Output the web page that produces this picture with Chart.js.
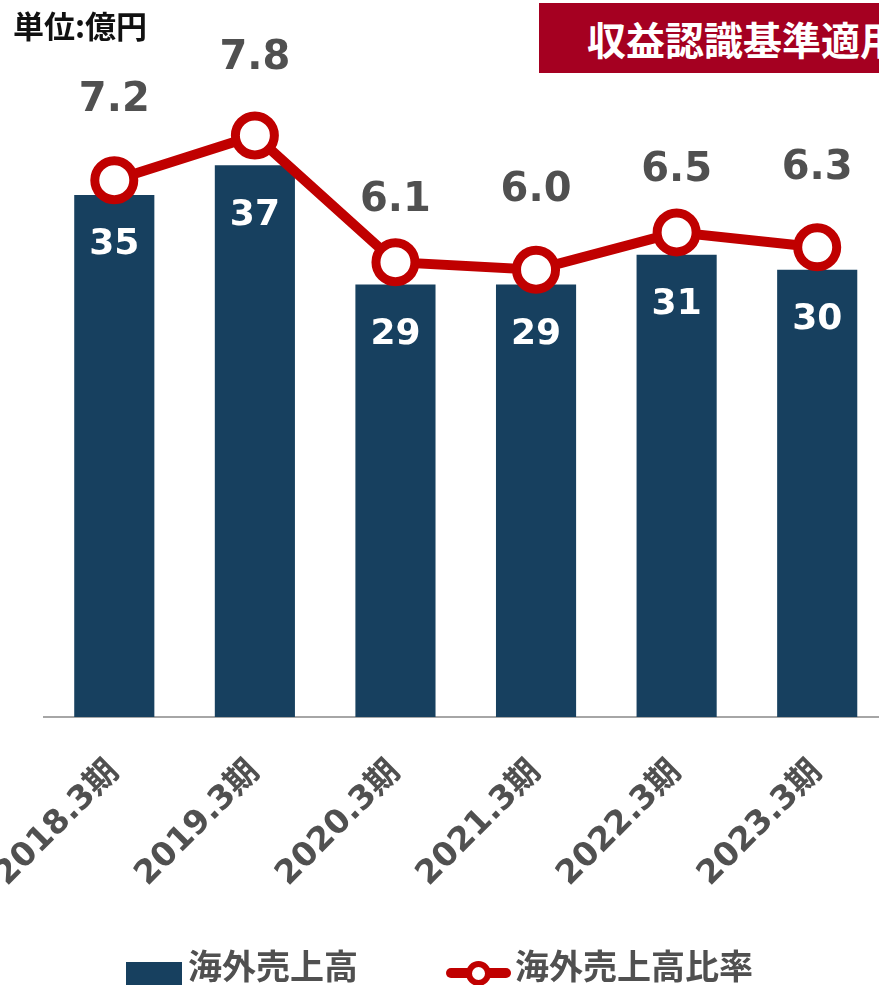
<!DOCTYPE html>
<html lang="ja">
<head>
<meta charset="utf-8">
<script src="https://cdn.jsdelivr.net/npm/chart.js@4"></script>
<style>
  html, body { margin: 0; padding: 0; background: #fff; overflow: hidden; }
  #wrap { position: relative; width: 879px; height: 985px; overflow: hidden; }
  #chart { position: absolute; left: 0; top: 0; width: 900px; height: 985px; }
  .unit { position: absolute; left: 13px; top: 9px; font: bold 31px "Noto Sans CJK JP", sans-serif; color: #111; line-height: 1; }
  .badge { position: absolute; left: 539px; top: 3px; width: 380px; height: 70px; background: #A50021; color: #fff;
           font: bold 39px "Noto Sans CJK JP", sans-serif; line-height: 70px; padding-left: 48px; box-sizing: border-box; white-space: nowrap; }
  .legend { position: absolute; top: 948px; font: bold 34px "Noto Sans CJK JP", sans-serif; color: #505050; line-height: 1; white-space: nowrap; }
  .swatch-bar { position: absolute; left: 126px; top: 962px; width: 56px; height: 30px; background: #17405F; }
  .swatch-line { position: absolute; left: 446px; top: 968px; width: 65px; height: 10px; background: #C00000; border-radius: 5px; }
  .swatch-dot { position: absolute; left: 466px; top: 961px; width: 13px; height: 13px; border: 6px solid #C00000; border-radius: 50%; background: #fff; }
</style>
</head>
<body>
<div id="wrap">
  <canvas id="chart" width="900" height="985"></canvas>
  <div class="unit">単位:億円</div>
  <div class="badge">収益認識基準適用</div>
  <div class="swatch-bar"></div>
  <div class="legend" style="left:188px">海外売上高</div>
  <div class="swatch-line"></div>
  <div class="swatch-dot"></div>
  <div class="legend" style="left:515px">海外売上高比率</div>
</div>
<script>
const periods = ["2018.3期", "2019.3期", "2020.3期", "2021.3期", "2022.3期", "2023.3期"];
const sales = [35, 37, 29, 29, 31, 30];          // 海外売上高 (億円)
const ratio = [7.2, 7.8, 6.1, 6.0, 6.5, 6.3];    // 海外売上高比率 (%)

// how far above each point its label sits
const ratioLabelLift = [80, 77, 62, 79, 62, 79];

const fontFamily = '"DejaVu Sans", "Noto Sans CJK JP", sans-serif';

// draw the numbers on bars and above points
const valueLabels = {
  id: "valueLabels",
  afterDatasetsDraw(chart) {
    const ctx = chart.ctx;
    ctx.save();
    ctx.textAlign = "center";
    ctx.textBaseline = "middle";

    ctx.fillStyle = "#fff";
    ctx.font = "bold 36px " + fontFamily;
    chart.getDatasetMeta(1).data.forEach((bar, i) => {
      ctx.fillText(String(sales[i]), bar.x, bar.y + 50);
    });

    ctx.fillStyle = "#505050";
    ctx.font = "bold 40px " + fontFamily;
    chart.getDatasetMeta(0).data.forEach((pt, i) => {
      ctx.fillText(ratio[i].toFixed(1), pt.x, pt.y - ratioLabelLift[i]);
    });
    ctx.restore();
  },
};

new Chart(document.getElementById("chart"), {
  data: {
    labels: periods,
    datasets: [
      {
        type: "line",
        label: "海外売上高比率",
        data: ratio,
        yAxisID: "y1",
        order: 0,
        borderColor: "#C00000",
        borderWidth: 10,
        pointRadius: 19.5,
        pointBorderWidth: 9,
        pointBackgroundColor: "#fff",
        pointBorderColor: "#C00000",
        tension: 0,
      },
      {
        type: "bar",
        label: "海外売上高",
        data: sales,
        yAxisID: "y",
        order: 1,
        backgroundColor: "#17405F",
        barPercentage: 0.57,
        categoryPercentage: 1,
      },
    ],
  },
  options: {
    responsive: false,
    animation: false,
    events: [],
    layout: { autoPadding: false, padding: { left: 44, right: 12.5, top: 46, bottom: 0 } },
    plugins: {
      legend: { display: false },
      tooltip: { enabled: false },
    },
    scales: {
      x: {
        grid: { display: false },
        border: { display: true, color: "#A6A6A6", width: 2 },
        ticks: {
          color: "#505050",
          font: { family: fontFamily, size: 33, weight: "bold" },
          maxRotation: 45,
          minRotation: 45,
          padding: 28,
        },
        afterFit: (scale) => {
          scale.height = 268;
          scale.paddingLeft = 0;
          scale.paddingRight = 0;
        },
      },
      y: { display: false, min: 0, max: 45 },
      y1: { display: false, min: 0, max: 9 },
    },
  },
  plugins: [valueLabels],
});
</script>
</body>
</html>
